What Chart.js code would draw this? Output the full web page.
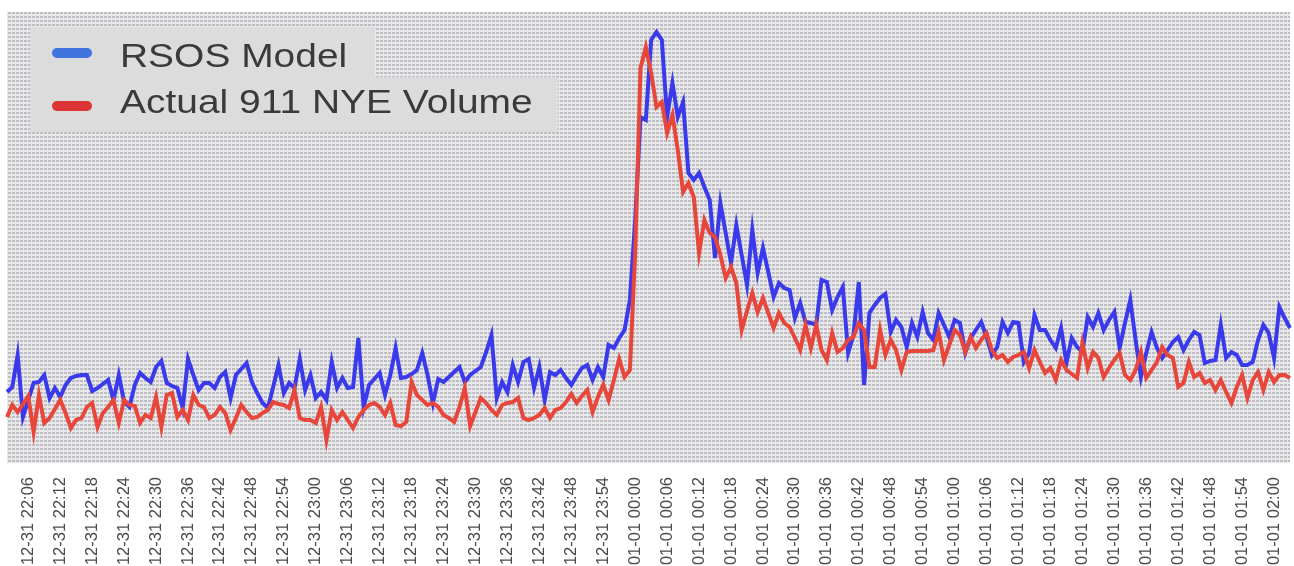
<!DOCTYPE html>
<html>
<head>
<meta charset="utf-8">
<title>RSOS Model vs Actual 911 NYE Volume</title>
<script src="https://cdn.jsdelivr.net/npm/chart.js@4.4.1/dist/chart.umd.min.js"></script>
<style>
    html, body { margin: 0; padding: 0; background: #ffffff; }
    #wrap { width: 1294px; height: 566px; position: relative; }
</style>
</head>
<body>
<div id="wrap"><canvas id="lineChart"></canvas></div>
<script>
// Series, one value per minute from 12-31 22:02 to 01-01 02:03
const seriesNames = ['RSOS Model', 'Actual 911 NYE Volume'];
const startDay = ['12-31', '01-01'];
const startMinuteOfDay = 22 * 60 + 2;
const tickEveryMinutes = 6;

const rsosModel = [
    71, 76, 108, 46, 63, 80, 81, 88, 65, 75, 66, 78, 85, 87, 88, 88, 72, 75, 79, 83,
    63, 88, 61, 56, 78, 90, 85, 81, 96, 102, 80, 77, 75, 55, 104, 88, 73, 80, 80, 75,
    86, 91, 65, 88, 94, 100, 81, 70, 60, 55, 76, 98, 70, 80, 75, 104, 73, 88, 65, 71,
    63, 101, 75, 85, 75, 76, 125, 56, 78, 84, 90, 68, 88, 115, 85, 86, 89, 93, 110, 88,
    60, 84, 81, 86, 91, 96, 81, 88, 92, 96, 111, 128, 65, 81, 71, 98, 81, 101, 104, 75,
    96, 63, 91, 88, 93, 85, 78, 87, 95, 98, 83, 96, 86, 118, 115, 125, 133, 163, 243, 346,
    343, 423, 431, 423, 346, 380, 346, 361, 290, 283, 290, 276, 263, 205, 260, 230, 200, 238, 208, 178,
    233, 190, 215, 191, 166, 180, 175, 173, 145, 160, 141, 140, 138, 183, 181, 153, 166, 176, 110, 128,
    181, 78, 150, 158, 165, 169, 131, 143, 136, 116, 140, 126, 151, 130, 123, 150, 138, 126, 143, 140,
    110, 125, 133, 141, 126, 108, 116, 141, 130, 141, 140, 101, 110, 148, 133, 133, 123, 115, 135, 100,
    125, 116, 111, 146, 136, 150, 133, 143, 151, 115, 140, 163, 123, 86, 110, 131, 115, 105, 113, 121,
    126, 113, 123, 131, 128, 100, 102, 103, 138, 105, 111, 108, 98, 98, 101, 123, 138, 130, 105, 156,
    145, 135
];

const actualVolume = [
    46, 58, 51, 59, 67, 31, 68, 40, 45, 54, 63, 50, 35, 43, 45, 56, 60, 36, 50, 56,
    63, 40, 63, 58, 57, 40, 48, 45, 66, 36, 68, 70, 46, 53, 43, 68, 58, 56, 45, 48,
    56, 50, 33, 45, 58, 51, 45, 46, 50, 53, 61, 59, 58, 55, 73, 45, 43, 43, 40, 56,
    23, 53, 43, 51, 43, 35, 46, 53, 58, 60, 56, 48, 60, 38, 37, 41, 81, 68, 63, 58,
    60, 56, 48, 45, 41, 56, 75, 37, 51, 65, 60, 53, 48, 58, 60, 61, 65, 45, 43, 45,
    48, 55, 45, 53, 55, 61, 69, 60, 67, 73, 51, 66, 78, 63, 83, 104, 86, 93, 210, 395,
    416, 390, 356, 361, 330, 348, 313, 271, 280, 266, 210, 243, 230, 226, 208, 185, 196, 180, 133, 152,
    170, 151, 165, 150, 135, 150, 140, 136, 125, 113, 138, 115, 138, 113, 103, 130, 111, 115, 123, 126,
    140, 133, 96, 96, 133, 108, 123, 113, 93, 111, 112, 112, 112, 112, 113, 131, 103, 118, 133, 128,
    111, 126, 115, 123, 130, 113, 105, 108, 101, 106, 108, 111, 95, 113, 101, 90, 95, 83, 103, 93,
    89, 85, 120, 95, 111, 105, 86, 95, 103, 110, 88, 83, 93, 111, 85, 93, 101, 116, 108, 105,
    76, 80, 101, 86, 90, 80, 83, 73, 83, 71, 60, 76, 88, 65, 83, 91, 73, 91, 81, 88,
    88, 85
];

document.addEventListener('DOMContentLoaded', function () {
    function pad(n) {
        return String(n).padStart(2, '0');
    }

    // Minute labels such as "12-31 22:06"
    const timeLabels = rsosModel.map(function (v, i) {
        const total = startMinuteOfDay + i;
        const day = total >= 1440 ? startDay[1] : startDay[0];
        return `${day} ${pad(Math.floor(total / 60) % 24)}:${pad(total % 60)}`;
    });

    const lineColors = ['rgb(58, 58, 236)', 'rgb(232, 70, 58)'];
    const swatchColors = ['rgb(66, 116, 224)', 'rgb(220, 52, 52)'];

    // Fond pointillé gris de la zone de tracé
    const dotted = document.createElement('canvas');
    dotted.width = 4;
    dotted.height = 4;
    const dctx = dotted.getContext('2d');
    dctx.fillStyle = '#e8e8ea';
    dctx.fillRect(0, 0, 4, 4);
    dctx.fillStyle = '#bdbdc2';
    dctx.fillRect(0, 0, 3, 2);

    const backgroundPlugin = {
        id: 'dottedBackground',
        beforeDraw(chart) {
            const area = chart.chartArea;
            const ctx = chart.ctx;
            ctx.save();
            ctx.fillStyle = ctx.createPattern(dotted, 'repeat');
            ctx.fillRect(area.left, area.top, area.right - area.left, area.bottom - area.top);
            ctx.restore();
        }
    };

    // Légende dessinée à la main, en haut à gauche dans la zone de tracé
    const legendPlugin = {
        id: 'boxedLegend',
        afterDraw(chart) {
            const ctx = chart.ctx;
            const left = chart.chartArea.left;
            const top = chart.chartArea.top;
            const rows = [
                { y: top + 15, h: 50, w: 345 },
                { y: top + 65, h: 55, w: 528 }
            ];
            ctx.save();
            chart.data.datasets.forEach(function (ds, i) {
                const row = rows[i];
                ctx.fillStyle = '#dcdcdc';
                ctx.fillRect(left + 23, row.y, row.w, row.h);

                const cy = i === 0 ? top + 41 : top + 94;
                ctx.strokeStyle = swatchColors[i];
                ctx.lineWidth = 10;
                ctx.lineCap = 'round';
                ctx.beginPath();
                ctx.moveTo(left + 50, cy);
                ctx.lineTo(left + 80, cy);
                ctx.stroke();

                ctx.save();
                ctx.translate(left + 113, i === 0 ? top + 55 : top + 101);
                ctx.scale(1.18, 1);
                ctx.fillStyle = '#3a3a3a';
                ctx.font = '33px Arial, "Liberation Sans", sans-serif';
                ctx.textBaseline = 'alphabetic';
                ctx.fillText(ds.label, 0, 0);
                ctx.restore();
            });
            ctx.restore();
        }
    };

    const ctxLine = document.getElementById('lineChart').getContext('2d');
    new Chart(ctxLine, {
        type: 'line',
        data: {
            labels: timeLabels,
            datasets: [{
                label: seriesNames[0],
                data: rsosModel,
                borderColor: lineColors[0],
                backgroundColor: lineColors[0],
                borderWidth: 4,
                pointRadius: 0,
                tension: 0,
                order: 2
            }, {
                label: seriesNames[1],
                data: actualVolume,
                borderColor: lineColors[1],
                backgroundColor: lineColors[1],
                borderWidth: 4,
                pointRadius: 0,
                tension: 0,
                order: 1
            }]
        },
        options: {
            responsive: true,
            maintainAspectRatio: false,
            animation: false,
            layout: {
                padding: { left: 7, right: 4, top: 12, bottom: 1 }
            },
            plugins: {
                legend: { display: false },
                tooltip: { enabled: false }
            },
            scales: {
                x: {
                    grid: { display: false, drawTicks: false },
                    border: { display: false },
                    afterFit: function (scale) {
                        // hauteur fixe de l'axe pour caler la zone de tracé
                        scale.height = 102;
                        scale.paddingLeft = 0;
                        scale.paddingRight = 0;
                    },
                    ticks: {
                        autoSkip: false,
                        minRotation: 90,
                        maxRotation: 90,
                        padding: 14,
                        color: '#4a4a4a',
                        font: { family: 'Arial, "Liberation Sans", sans-serif', size: 16.5 },
                        callback: function (value, index) {
                            return (startMinuteOfDay + index) % tickEveryMinutes === 0 ? timeLabels[index] : null;
                        }
                    }
                },
                y: {
                    display: false,
                    min: 0,
                    max: 451
                }
            }
        },
        plugins: [backgroundPlugin, legendPlugin]
    });
});
</script>
</body>
</html>
